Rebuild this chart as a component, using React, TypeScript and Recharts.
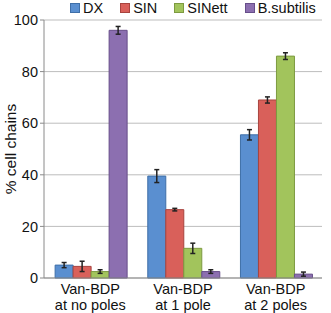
import React from 'react'
import { BarChart, Bar, XAxis, YAxis, CartesianGrid, Legend, ErrorBar, Label } from 'recharts'

const categories = ['Van-BDP|at no poles', 'Van-BDP|at 1 pole', 'Van-BDP|at 2 poles']
const seriesNames = ['DX', 'SIN', 'SINett', 'B.subtilis']
const dx = [5, 39.5, 55.5]
const dxErr = [1, 2.5, 2]
const sin = [4.5, 26.5, 69]
const sinErr = [2, 0.5, 1.2]
const sinett = [2.5, 11.5, 86]
const sinettErr = [0.7, 2, 1.3]
const bsub = [96, 2.5, 1.5]
const bsubErr = [1.5, 0.7, 0.8]
const yTicks = [0, 20, 40, 60, 80, 100]

const fills = ['#5a8fd0', '#d9605a', '#a2c45c', '#8c6fb0']
const strokes = ['#3f6fa8', '#a8443f', '#7d9a40', '#674e8a']

const data = categories.map((name, i) => ({
  name,
  DX: dx[i], dxErr: dxErr[i],
  SIN: sin[i], sinErr: sinErr[i],
  SINett: sinett[i], sinettErr: sinettErr[i],
  bsub: bsub[i], bsubErr: bsubErr[i],
}))

const font = 'Liberation Sans, Arial, sans-serif'

function CategoryTick({ x, y, payload }: any) {
  const lines = String(payload.value).split('|')
  return (
    <text x={x} y={y} textAnchor="middle" fontSize={14.5} fill="#111" fontFamily={font}>
      {lines.map((l, i) => (
        <tspan key={i} x={x} dy={i === 0 ? 8 : 16}>{l}</tspan>
      ))}
    </text>
  )
}

function LegendContent() {
  return (
    <div style={{ display: 'flex', gap: 17, fontSize: 14.5, color: '#111', fontFamily: font, lineHeight: '16px' }}>
      {seriesNames.map((n, i) => (
        <div key={n} style={{ display: 'flex', alignItems: 'center', gap: 3 }}>
          <span style={{ display: 'inline-block', width: 8, height: 8, background: fills[i], border: '1px solid ' + strokes[i] }} />
          <span>{n}</span>
        </div>
      ))}
    </div>
  )
}

export default function App() {
  return (
    <div style={{ position: 'absolute', left: 0, top: 0, width: 331, height: 313, background: '#fff', fontFamily: font }}>
      <BarChart width={331} height={313} data={data} margin={{ top: 4, right: 9, left: 0, bottom: 0 }}
        barCategoryGap="12%" barGap={0}>
        <CartesianGrid vertical={false} stroke="#bdbdbd" />
        <XAxis dataKey="name" tick={<CategoryTick />} tickLine={false} stroke="#8a8a8a" height={35} interval={0} />
        <YAxis domain={[0, 100]} ticks={yTicks} width={44} stroke="#8a8a8a" tickSize={4}
          tick={{ fontSize: 14.5, fill: '#111', fontFamily: font }}>
          <Label value="% cell chains" angle={-90} position="insideLeft" offset={10}
            style={{ fontSize: 15.5, fill: '#111', fontFamily: font, textAnchor: 'middle' }} />
        </YAxis>
        <Legend content={<LegendContent />} verticalAlign="top"
          wrapperStyle={{ position: 'absolute', top: 0, left: 70, width: 'auto' }} />
        <Bar dataKey="DX" name={seriesNames[0]} fill={fills[0]} stroke={strokes[0]} isAnimationActive={false}>
          <ErrorBar dataKey="dxErr" width={2.5} stroke="#222" />
        </Bar>
        <Bar dataKey="SIN" name={seriesNames[1]} fill={fills[1]} stroke={strokes[1]} isAnimationActive={false}>
          <ErrorBar dataKey="sinErr" width={2.5} stroke="#222" />
        </Bar>
        <Bar dataKey="SINett" name={seriesNames[2]} fill={fills[2]} stroke={strokes[2]} isAnimationActive={false}>
          <ErrorBar dataKey="sinettErr" width={2.5} stroke="#222" />
        </Bar>
        <Bar dataKey="bsub" name={seriesNames[3]} fill={fills[3]} stroke={strokes[3]} isAnimationActive={false}>
          <ErrorBar dataKey="bsubErr" width={2.5} stroke="#222" />
        </Bar>
      </BarChart>
    </div>
  )
}
